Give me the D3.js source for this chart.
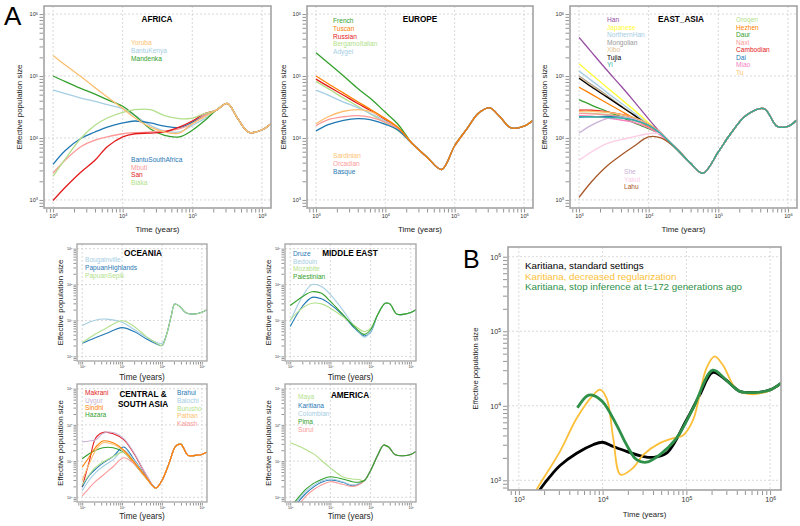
<!DOCTYPE html>
<html>
<head>
<meta charset="utf-8">
<script src="https://cdn.jsdelivr.net/npm/d3@7"></script>
<style>
  body { margin: 0; background: #fff; }
  text { font-family: "Liberation Sans", Arial, Helvetica, sans-serif; }
</style>
</head>
<body>
<svg id="chart" width="800" height="526"></svg>
<script>
// ---- data (years ago, effective population size) ----

// AFRICA
const africaYears = [1000, 1500, 2500, 4000, 6000, 10000, 15000, 25000, 40000, 65000, 100000, 150000,
                     220000, 320000, 450000, 650000, 1000000, 1350000];
const africaTail = [28000, 36000, 20500, 12300, 13500, 17000];
const africaNames = ["Yoruba", "BantuKenya", "Mandenka", "BantuSouthAfrica", "Mbuti", "San", "Biaka"];
const africaColors = ["#fdbf6f", "#a6cee3", "#33a02c", "#1f78b4", "#fb9a99", "#e31a1c", "#b2df8a"];
const africaNe = [
  [215000, 150000, 98000, 65000, 46000, 30000, 21000, 15000, 12500, 12000, 17000, 22000],
  [60000, 52000, 44000, 39000, 34500, 29700, 23000, 16000, 13000, 12500, 16000, 20500],
  [100000, 81000, 63000, 51000, 41500, 32500, 23000, 14000, 11000, 10400, 13300, 19000],
  [3760, 6300, 9800, 12500, 15000, 17500, 18800, 17500, 15500, 14700, 18000, 23000],
  [2700, 4400, 7200, 9200, 10400, 11700, 12200, 12500, 13000, 14000, 17000, 23000],
  [980, 1600, 2800, 4360, 7200, 10400, 11700, 12000, 12500, 15000, 18800, 24700],
  [2400, 4600, 9800, 16000, 21000, 26000, 28600, 28600, 23000, 20500, 21000, 24700]
];

// EUROPE
const europeYears = [1000, 1500, 2500, 4000, 6000, 10000, 15000,
                     25000, 40000, 65000, 100000, 150000, 220000, 320000, 450000, 650000, 1000000, 1350000];
const europeTail = [7900, 4900, 3100, 7500, 14000, 25000, 30500, 22000, 14500, 15500, 19300];
const europeNames = ["French", "Tuscan", "Russian", "BergamoItalian", "Adygei", "Sardinian", "Orcadian", "Basque"];
const europeColors = ["#33a02c", "#ff7f00", "#e31a1c", "#b2df8a", "#a6cee3", "#fdbf6f", "#fb9a99", "#1f78b4"];
const europeNe = [
  [237000, 162000, 100000, 63000, 44000, 26000, 17000],
  [100000, 75000, 53000, 38500, 29300, 20500, 15000],
  [89000, 68000, 49000, 36000, 28000, 19800, 14700],
  [82000, 62500, 44000, 32500, 24700, 17500, 13300],
  [59000, 49000, 38000, 31000, 25000, 18800, 14000],
  [17000, 22000, 27000, 28600, 27000, 20500, 14700],
  [15800, 19700, 22000, 23000, 21800, 18000, 14000],
  [13000, 16400, 19300, 20500, 19800, 16600, 13600]
];

// EAST_ASIA
const eastAsiaYears = [1000, 1500, 2500, 4000, 6000, 10000, 15000,
                       25000, 40000, 60000, 100000, 150000, 250000, 450000, 700000, 1000000, 1350000];
const eastAsiaTail = [6700, 3900, 2700, 5950, 11700, 23000, 29700, 15400, 15400, 19700];
const eastAsiaNames = ["Han", "Japanese", "NorthernHan", "Mongolian", "Xibo", "Tujia", "Yi",
                       "Oroqen", "Hezhen", "Daur", "Naxi", "Cambodian", "Dai", "Miao", "Tu",
                       "She", "Yakut", "Lahu"];
const eastAsiaColors = ["#984ea3", "#ffff33", "#a6cee3", "#999999", "#e5c494", "#000000", "#2fb3a0",
                        "#b2df8a", "#ff7f00", "#33a02c", "#fb9a99", "#e31a1c", "#1f78b4", "#f781bf", "#fdbf6f",
                        "#cab2d6", "#fccde5", "#a65628"];
const eastAsiaNe = [
  [420000, 245000, 125000, 69000, 40500, 20200, 12000],
  [158000, 107000, 66000, 42500, 29000, 17500, 11700],
  [120000, 85000, 54500, 36700, 26000, 16400, 11600],
  [100000, 73000, 49000, 33000, 24000, 15400, 11300],
  [96000, 70000, 47500, 33000, 24000, 15600, 11400],
  [92000, 67000, 46000, 32400, 23800, 15800, 11500],
  [22000, 22000, 21500, 21000, 19500, 16000, 11700],
  [25000, 25000, 24000, 22500, 20500, 16500, 11800],
  [66000, 51000, 36700, 27200, 21000, 14900, 11500],
  [41500, 34000, 27000, 21800, 17900, 14100, 11500],
  [25000, 24500, 23500, 22000, 19300, 15500, 11300],
  [28000, 28000, 26300, 24000, 21300, 16600, 12000],
  [21800, 22000, 22300, 21800, 19800, 16000, 11700],
  [23000, 22500, 21000, 19500, 18000, 14500, 11000],
  [27000, 27000, 26000, 24000, 21500, 16800, 12000],
  [12000, 16000, 20500, 21800, 20500, 16000, 12000],
  [4360, 5950, 8100, 9400, 10400, 11700, 11700],
  [1100, 1950, 3500, 5250, 7200, 10400, 10000]
];

// OCEANIA
const oceaniaYears = [1000, 2000, 4000, 10000, 20000, 40000, 65000, 100000,
                      130000, 170000, 210000, 280000, 400000, 600000, 1000000, 1350000];
const oceaniaTail = [4000, 13000, 28500, 24500, 16300, 15000, 17000, 20000];
const oceaniaNames = ["Bougainville", "PapuanHighlands", "PapuanSepik"];
const oceaniaColors = ["#a6cee3", "#1f78b4", "#b2df8a"];
const oceaniaNe = [
  [7200, 10000, 10900, 8900, 5600, 3450, 2600, 2300],
  [2300, 3200, 4300, 6300, 4900, 3100, 2350, 2000],
  [2400, 4000, 6100, 9800, 6800, 3600, 2500, 2000]
];

// MIDDLE EAST
const middleEastYears = [1000, 2000, 3500, 6000, 10000, 20000, 40000, 70000, 100000,
                         150000, 230000, 300000, 450000, 700000, 1000000, 1350000];
const middleEastTail = [14400, 30000, 29000, 15000, 15000, 16700, 20000];
const middleEastNames = ["Druze", "Bedouin", "Mozabite", "Palestinian"];
const middleEastColors = ["#1f78b4", "#a6cee3", "#b2df8a", "#33a02c"];
const middleEastNe = [
  [6800, 24500, 44000, 40000, 28000, 14400, 6100, 3700, 4700],
  [9400, 46000, 100000, 88000, 52000, 20000, 6800, 3400, 4900],
  [10400, 22000, 30000, 29000, 22000, 13000, 7200, 4900, 6100],
  [26000, 46000, 63000, 57000, 34000, 15000, 6600, 4100, 5500]
];

// CENTRAL & SOUTH ASIA
const csaYears = [1000, 1500, 2200, 3300, 6000, 11000, 20000, 40000,
                  70000, 100000, 150000, 220000, 300000, 450000, 700000, 1000000, 1350000];
const csaTail = [1800, 2900, 8500, 25500, 29000, 14400, 14400, 15300, 18000];
const csaNames = ["Makrani", "Uygur", "Sindhi", "Hazara", "Brahui", "Balochi", "Burusho", "Pathan", "Kalash"];
const csaColors = ["#e31a1c", "#cab2d6", "#ff7f00", "#33a02c", "#1f78b4", "#a6cee3", "#b2df8a", "#fdbf6f", "#fb9a99"];
const csaNe = [
  [1900, 9600, 44000, 62000, 57000, 39000, 16000, 4200],
  [34000, 36000, 39000, 58000, 62000, 42000, 17000, 4300],
  [6800, 13000, 24500, 36000, 32000, 20000, 9400, 3600],
  [11600, 16000, 20000, 23500, 23500, 17800, 8500, 3400],
  [1900, 4000, 6100, 8800, 13500, 24500, 11000, 3700],
  [1500, 3000, 4900, 7100, 11000, 20000, 10400, 3600],
  [2200, 4200, 6800, 9400, 13500, 17800, 9400, 3600],
  [2900, 8500, 20000, 32000, 29000, 18600, 8800, 3400],
  [1100, 1800, 2800, 4000, 7100, 12400, 8500, 3600]
];

// AMERICA
const americaYears = [1000, 1500, 2500, 4000, 6000, 10000, 20000, 35000, 50000, 70000,
                      100000, 150000, 210000, 280000, 400000, 600000, 1000000, 1350000];
const americaTail = [5500, 14400, 27500, 24500, 15300, 14000, 15300, 18600];
const americaNames = ["Maya", "Karitiana", "Colombian", "Pima", "Surui"];
const americaColors = ["#b2df8a", "#1f78b4", "#a6cee3", "#33a02c", "#fb9a99"];
const americaNe = [
  [32000, 27000, 20500, 15300, 10400, 6500, 3700, 3200, 3100, 2900],
  [400, 700, 1300, 2000, 2600, 3000, 2600, 2100, 2300, 2900],
  [450, 800, 1500, 2200, 2800, 3200, 2700, 2200, 2400, 2900],
  [500, 900, 1700, 2500, 3100, 3700, 3200, 2700, 2600, 2900],
  [300, 550, 1100, 1700, 2200, 2700, 2300, 2000, 2200, 2900]
];

// B: Karitiana settings
const bNames = ["Karitiana, standard settings", "Karitiana, decreased regularization",
                "Karitiana, stop inference at t=172 generations ago"];
const bColors = ["#000000", "#fbbf3a", "#2e9049"];
const bYearsStd = [1500, 1850, 2360, 3100, 4900, 7700, 10000, 13400, 19300, 30500, 40000, 58000,
                   100000, 144000, 207000, 300000, 430000, 620000, 980000, 1350000];
const bStd = [550, 795, 1130, 1580, 2310, 3000, 3240, 2840, 2440, 2090, 2030, 2310,
              6400, 13900, 28000, 22000, 15700, 15000, 16200, 20000];
const bYearsLow = [1400, 1670, 3100, 4900, 7700, 9300, 11200, 13400, 16400, 23000, 30500, 48000,
                   69000, 91000, 120000, 173000, 217000, 274000, 390000, 570000, 980000, 1350000];
const bLow = [550, 790, 2440, 6800, 13900, 16500, 12500, 3660, 1190, 1460, 2200, 3150,
              3660, 4000, 6400, 31500, 46000, 35000, 17000, 14300, 16000, 20000];
const bYearsStop = [5000, 6500, 7500, 10000, 14700, 19300, 25400, 33400, 48000, 76000,
                    120000, 207000, 300000, 430000, 620000, 980000, 1350000];
const bStop = [9400, 13500, 13900, 11300, 5500, 3000, 1890, 1750, 2200, 3660,
               9200, 30000, 22000, 15700, 15000, 16200, 20000];

// ---- drawing ----
const svg = d3.select("#chart");
const LO = Math.pow(10, 2.87), HI = Math.pow(10, 6.13);
const majors = [1e3, 1e4, 1e5, 1e6];
let minors = [];
for (let d = 100; d <= 1e6; d *= 10) {
  for (let k = 2; k <= 9; k++) {
    let v = d * k;
    if (v > LO && v < HI) minors.push(v);
  }
}
const allTicks = majors.concat(minors);

function panelSeries(years, early, tail, names, colors) {
  return early.map((e, i) => ({
    name: names[i], color: colors[i], years: years, ne: e.concat(tail)
  }));
}

let clipCount = 0;
function drawPanel(p) {
  const x = d3.scaleLog().domain([LO, HI]).range([p.x0, p.x1]);
  const y = d3.scaleLog().domain([LO, HI]).range([p.y1, p.y0]);
  const g = svg.append("g");
  const cid = "clip" + (clipCount++);
  g.append("clipPath").attr("id", cid).append("rect")
    .attr("x", p.x0).attr("y", p.y0)
    .attr("width", p.x1 - p.x0).attr("height", p.y1 - p.y0);

  // dotted grid
  g.selectAll(".gx").data(majors).enter().append("line")
    .attr("x1", d => x(d)).attr("x2", d => x(d))
    .attr("y1", p.y0).attr("y2", p.y1)
    .attr("stroke", "#cfcfcf").attr("stroke-width", 0.8).attr("stroke-dasharray", "2,2");
  g.selectAll(".gy").data(majors).enter().append("line")
    .attr("y1", d => y(d)).attr("y2", d => y(d))
    .attr("x1", p.x0).attr("x2", p.x1)
    .attr("stroke", "#cfcfcf").attr("stroke-width", 0.8).attr("stroke-dasharray", "2,2");

  // curves (the "front" series is drawn last so its colour shows on the shared tail)
  const line = d3.line()
    .x(d => x(d[0])).y(d => y(d[1]))
    .curve(d3.curveCatmullRom.alpha(0.5));
  let order = p.series.map((s, i) => i);
  if (p.front !== undefined) order = order.filter(i => i !== p.front).concat([p.front]);
  order.forEach(i => {
    const s = p.series[i];
    g.append("path")
      .datum(s.years.map((t, k) => [t, s.ne[k]]))
      .attr("clip-path", `url(#${cid})`)
      .attr("fill", "none")
      .attr("stroke", s.color)
      .attr("stroke-width", s.width || p.lw)
      .attr("d", line);
  });

  // frame
  g.append("rect")
    .attr("x", p.x0).attr("y", p.y0)
    .attr("width", p.x1 - p.x0).attr("height", p.y1 - p.y0)
    .attr("fill", "none").attr("stroke", "#a3a3a3").attr("stroke-width", p.frame);

  // axes
  const fmt = d => majors.includes(d) ? "10" : "";
  const sup = function(d) {
    if (majors.includes(d)) {
      d3.select(this).append("tspan")
        .attr("dy", "-0.45em").attr("font-size", "70%")
        .text(Math.round(Math.log10(d)));
    }
  };
  const gx = g.append("g")
    .attr("transform", `translate(0,${p.y1 + p.gap})`)
    .call(d3.axisBottom(x).tickValues(allTicks).tickFormat(fmt)
      .tickSize(p.tick).tickSizeOuter(0).tickPadding(p.pad));
  gx.select(".domain").remove();
  gx.attr("font-size", p.tickFont).attr("font-family", null);
  gx.selectAll("line").attr("stroke", "#666").attr("stroke-width", 0.7);
  gx.selectAll("text").attr("fill", "#333").each(sup);

  const gy = g.append("g")
    .attr("transform", `translate(${p.x0 - p.gap},0)`)
    .call(d3.axisLeft(y).tickValues(allTicks).tickFormat(fmt)
      .tickSize(p.tick).tickSizeOuter(0).tickPadding(p.pad));
  gy.select(".domain").remove();
  gy.attr("font-size", p.tickFont).attr("font-family", null);
  gy.selectAll("line").attr("stroke", "#666").attr("stroke-width", 0.7);
  gy.selectAll("text").attr("fill", "#333").each(sup);

  // axis titles
  g.append("text")
    .attr("x", (p.x0 + p.x1) / 2).attr("y", p.xLabY)
    .attr("text-anchor", "middle").attr("dy", "0.35em")
    .attr("font-size", p.axisFont).attr("fill", "#222")
    .text("Time (years)");
  g.append("text")
    .attr("transform", `translate(${p.yLabX},${(p.y0 + p.y1) / 2}) rotate(-90)`)
    .attr("text-anchor", "middle").attr("dy", "0.35em")
    .attr("font-size", p.yAxisFont || p.axisFont).attr("fill", "#222")
    .text("Effective population size");

  // panel title
  (p.title || []).forEach((t, i) => {
    g.append("text")
      .attr("x", p.titleX).attr("y", p.titleY + i * 10)
      .attr("text-anchor", "middle").attr("dy", "0.35em")
      .attr("font-size", 8.2).attr("font-weight", "bold").attr("fill", "#000")
      .text(t);
  });

  // legends
  p.legends.forEach(L => {
    L.items.forEach((k, j) => {
      const s = p.series[k];
      g.append("text")
        .attr("x", L.x).attr("y", L.y + j * L.dy)
        .attr("dy", "0.35em")
        .attr("font-size", p.legFont)
        .attr("fill", s.color)
        .text(s.name);
    });
  });
}

const topStyle = {y0: 6, y1: 208, lw: 1.3, frame: 1.6, tick: 3.5, gap: 1, pad: 1.5,
                  tickFont: 5.6, axisFont: 7.9, xLabY: 229, legFont: 6.6};
const lowStyle = {lw: 1.1, frame: 1.3, tick: 2.5, gap: 1, pad: 1, tickFont: 3.6,
                  axisFont: 8.2, yAxisFont: 8, legFont: 6.6};

drawPanel(Object.assign({}, topStyle, {
  x0: 44, x1: 271, yLabX: 19, front: 0,
  series: panelSeries(africaYears, africaNe, africaTail, africaNames, africaColors),
  title: ["AFRICA"], titleX: 157, titleY: 19,
  legends: [{x: 131, y: 43, dy: 7.9, items: [0, 1, 2]},
            {x: 131, y: 160, dy: 7.4, items: [3, 4, 5, 6]}]
}));

drawPanel(Object.assign({}, topStyle, {
  x0: 307, x1: 533, yLabX: 283, front: 1,
  series: panelSeries(europeYears, europeNe, europeTail, europeNames, europeColors),
  title: ["EUROPE"], titleX: 420, titleY: 19,
  legends: [{x: 333, y: 21, dy: 7.7, items: [0, 1, 2, 3, 4]},
            {x: 333, y: 156, dy: 8, items: [5, 6, 7]}]
}));

drawPanel(Object.assign({}, topStyle, {
  x0: 570, x1: 797, yLabX: 544, front: 6,
  series: panelSeries(eastAsiaYears, eastAsiaNe, eastAsiaTail, eastAsiaNames, eastAsiaColors),
  title: ["EAST_ASIA"], titleX: 681, titleY: 19,
  legends: [{x: 607, y: 20, dy: 7.5, items: [0, 1, 2, 3, 4, 5, 6]},
            {x: 736, y: 20, dy: 7.5, items: [7, 8, 9, 10, 11, 12, 13, 14]},
            {x: 624, y: 172, dy: 7.5, items: [15, 16, 17]}]
}));

drawPanel(Object.assign({}, lowStyle, {
  x0: 77, x1: 207, y0: 244, y1: 361, yLabX: 60, xLabY: 377, front: 2,
  series: panelSeries(oceaniaYears, oceaniaNe, oceaniaTail, oceaniaNames, oceaniaColors),
  title: ["OCEANIA"], titleX: 143, titleY: 253,
  legends: [{x: 85, y: 260, dy: 8, items: [0, 1, 2]}]
}));

drawPanel(Object.assign({}, lowStyle, {
  x0: 285, x1: 416, y0: 244, y1: 361, yLabX: 268, xLabY: 377, front: 3,
  series: panelSeries(middleEastYears, middleEastNe, middleEastTail, middleEastNames, middleEastColors),
  title: ["MIDDLE EAST"], titleX: 350, titleY: 253,
  legends: [{x: 293, y: 254, dy: 7.4, items: [0, 1, 2, 3]}]
}));

drawPanel(Object.assign({}, lowStyle, {
  x0: 77, x1: 207, y0: 384, y1: 502, yLabX: 60, xLabY: 516, front: 2,
  series: panelSeries(csaYears, csaNe, csaTail, csaNames, csaColors),
  title: ["CENTRAL &", "SOUTH ASIA"], titleX: 143, titleY: 394,
  legends: [{x: 85, y: 393, dy: 7.2, items: [0, 1, 2, 3]},
            {x: 177, y: 393, dy: 7.6, items: [4, 5, 6, 7, 8]}]
}));

drawPanel(Object.assign({}, lowStyle, {
  x0: 285, x1: 416, y0: 384, y1: 502, yLabX: 268, xLabY: 516, front: 3,
  series: panelSeries(americaYears, americaNe, americaTail, americaNames, americaColors),
  title: ["AMERICA"], titleX: 350, titleY: 395,
  legends: [{x: 298, y: 397, dy: 8.2, items: [0, 1, 2, 3, 4]}]
}));

drawPanel({
  x0: 508, x1: 781, y0: 247, y1: 490, lw: 2, frame: 1.6, tick: 4, gap: 1, pad: 2,
  tickFont: 7.2, axisFont: 7.8, yAxisFont: 7.6, xLabY: 514, yLabX: 475, legFont: 9.8,
  series: [
    {name: bNames[0], color: bColors[0], years: bYearsStd, ne: bStd, width: 2.8},
    {name: bNames[1], color: bColors[1], years: bYearsLow, ne: bLow, width: 1.8},
    {name: bNames[2], color: bColors[2], years: bYearsStop, ne: bStop, width: 2.8}
  ],
  legends: [{x: 525, y: 266, dy: 10.3, items: [0, 1, 2]}]
});

// panel letters
svg.append("text").attr("x", 4).attr("y", 25)
  .attr("font-size", 26).attr("fill", "#000").text("A");
svg.append("text").attr("x", 463).attr("y", 268)
  .attr("font-size", 25).attr("fill", "#000").text("B");
</script>
</body>
</html>
